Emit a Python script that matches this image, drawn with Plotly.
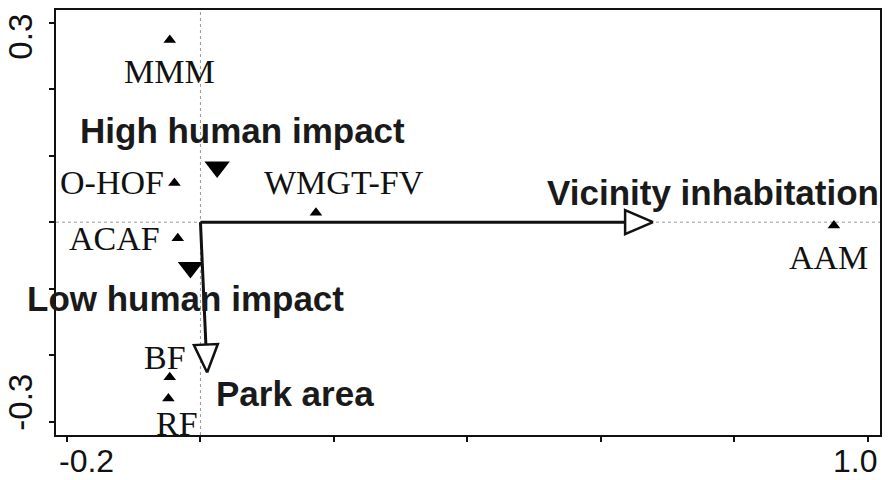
import numpy as np
import plotly.graph_objects as go

# ---- data ----
sites = ["MMM", "O-HOF", "WMGT-FV", "ACAF", "AAM", "BF", "RF"]
site_x = [-0.046, -0.039, 0.173, -0.034, 0.949, -0.046, -0.048]
site_y = [0.274, 0.059, 0.014, -0.024, -0.005, -0.233, -0.265]

levels = ["High human impact", "Low human impact"]
level_x = [0.025, -0.015]
level_y = [0.083, -0.068]

env_vars = ["Vicinity inhabitation", "Park area"]
env_x = [0.678, 0.010]
env_y = [0.0, -0.226]

x_ticks = [-0.2, 0.0, 0.2, 0.4, 0.6, 0.8, 1.0]
x_tick_labels = {-0.2: "-0.2", 1.0: "1.0"}
y_ticks = [0.3, 0.2, 0.1, 0.0, -0.1, -0.2, -0.3]
y_tick_labels = {0.3: "0.3", -0.3: "-0.3"}

# ---- layout geometry ----
W, H = 888, 480
ML, MR, MT, MB = 56, 6, 10, 45
XR = [-0.2164, 1.018]
YR = [-0.320, 0.319]
pw, ph = W - ML - MR, H - MT - MB
sx = pw / (XR[1] - XR[0])
sy = ph / (YR[1] - YR[0])

SERIF = "Liberation Serif, Times New Roman, serif"
SANS = "Liberation Sans, Arial, sans-serif"

fig = go.Figure()

# sites
fig.add_trace(go.Scatter(x=site_x, y=site_y, mode="markers",
                         marker=dict(symbol="triangle-up", size=11, color="black"),
                         hoverinfo="text", text=sites, showlegend=False))
# factor centroids
fig.add_trace(go.Scatter(x=level_x, y=level_y, mode="markers",
                         marker=dict(symbol="triangle-down", size=22, color="black"),
                         hoverinfo="text", text=levels, showlegend=False))

# arrows (line + open head) computed in pixel space
head_len, head_half = 28, 12
for ex, ey in zip(env_x, env_y):
    tx, ty = ex * sx, ey * sy
    L = np.hypot(tx, ty)
    dx, dy = tx / L, ty / L
    nx, ny = -dy, dx
    bx, by = tx - head_len * dx, ty - head_len * dy
    fig.add_trace(go.Scatter(x=[0, bx / sx], y=[0, by / sy], mode="lines",
                             line=dict(color="#111", width=3),
                             hoverinfo="skip", showlegend=False))
    px = [tx, bx + head_half * nx, bx - head_half * nx, tx]
    py = [ty, by + head_half * ny, by - head_half * ny, ty]
    fig.add_trace(go.Scatter(x=[p / sx for p in px], y=[p / sy for p in py],
                             mode="lines", fill="toself", fillcolor="white",
                             line=dict(color="#111", width=2.5),
                             hoverinfo="skip", showlegend=False))

# dotted zero lines
fig.add_shape(type="line", xref="x", yref="paper", x0=0, x1=0, y0=0, y1=1,
              line=dict(color="#999", width=1, dash="dot"), layer="below")
fig.add_shape(type="line", xref="paper", yref="y", x0=0, x1=1, y0=0, y1=0,
              line=dict(color="#999", width=1, dash="dot"), layer="below")

# site labels (pixel offsets)
site_off = {
    "MMM": (0, -32, "center"),
    "O-HOF": (-8, 0, "right"),
    "WMGT-FV": (28, 30, "center"),
    "ACAF": (-16, 0, "right"),
    "AAM": (-5, -32, "center"),
    "BF": (-5, 20, "center"),
    "RF": (9, -25, "center"),
}
for name, x, y in zip(sites, site_x, site_y):
    ox, oy, anc = site_off[name]
    fig.add_annotation(x=x, y=y, text=name, showarrow=False, xanchor=anc,
                       yanchor="middle", xshift=ox, yshift=oy,
                       font=dict(family=SERIF, size=34, color="#111"))

level_off = {"High human impact": (25, 36), "Low human impact": (-5, -31)}
for name, x, y in zip(levels, level_x, level_y):
    ox, oy = level_off[name]
    fig.add_annotation(x=x, y=y, text="<b>%s</b>" % name, showarrow=False,
                       xanchor="center", yanchor="middle", xshift=ox, yshift=oy,
                       font=dict(family=SANS, size=35, color="#1a1a1a"))

env_off = {"Vicinity inhabitation": (60, 30), "Park area": (88, -21)}
for name, x, y in zip(env_vars, env_x, env_y):
    ox, oy = env_off[name]
    fig.add_annotation(x=x, y=y, text="<b>%s</b>" % name, showarrow=False,
                       xanchor="center", yanchor="middle", xshift=ox, yshift=oy,
                       font=dict(family=SANS, size=35, color="#1a1a1a"))

# axis tick labels (as in the original, slightly offset from ticks)
x_lab_shift = {-0.2: 20, 1.0: -13}
for v, t in x_tick_labels.items():
    fig.add_annotation(x=v, y=0, xref="x", yref="paper", text=t, showarrow=False,
                       xanchor="center", yanchor="bottom", borderpad=0,
                       xshift=x_lab_shift[v], yshift=-MB,
                       font=dict(family=SANS, size=32, color="#111"))
y_lab_shift = {0.3: -14, -0.3: 19}
for v, t in y_tick_labels.items():
    fig.add_annotation(x=0, y=v, xref="paper", yref="y", text=t, showarrow=False,
                       xanchor="center", yanchor="middle",
                       textangle=-90, xshift=-35, yshift=y_lab_shift[v],
                       font=dict(family=SANS, size=33, color="#111"))

axis_common = dict(showgrid=False, zeroline=False, showline=True, linecolor="#111",
                   linewidth=2, mirror=True, ticks="outside", ticklen=5,
                   tickwidth=1.5, tickcolor="#111", showticklabels=False)
fig.update_xaxes(range=XR, tickvals=x_ticks, **axis_common)
fig.update_yaxes(range=YR, tickvals=y_ticks, **axis_common)

fig.update_layout(width=W, height=H, margin=dict(l=ML, r=MR, t=MT, b=MB),
                  plot_bgcolor="white", paper_bgcolor="white", showlegend=False)

fig.write_html("out.html", config={"displayModeBar": False},
               post_script="document.body.style.margin='0';document.body.style.overflow='hidden';")
